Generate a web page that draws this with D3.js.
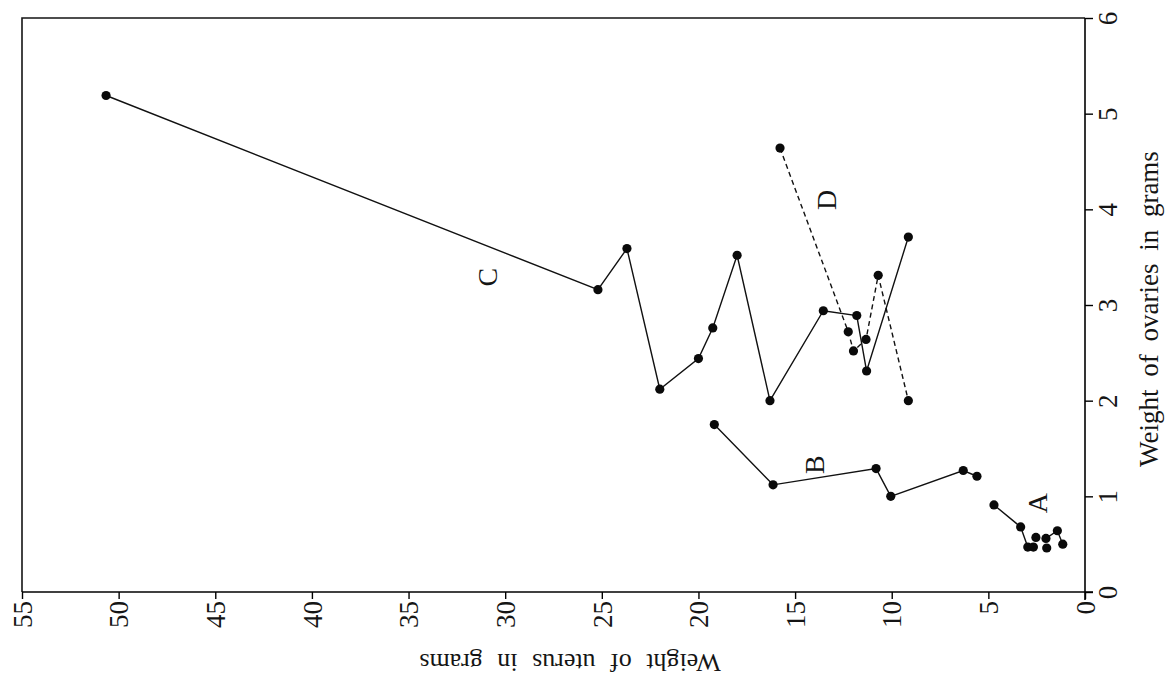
<!DOCTYPE html>
<html>
<head>
<meta charset="utf-8">
<script src="https://cdn.jsdelivr.net/npm/d3@7"></script>
<style>
    body { margin: 0; background: #fff; }
    svg text { font-family: "Liberation Serif", "DejaVu Serif", serif; fill: #151515; }
</style>
</head>
<body>
<div id="chart"></div>
<script>
const svgWidth = 1168;
const svgHeight = 686;

// tick labels
const uterusTicks = [55, 50, 45, 40, 35, 30, 25, 20, 15, 10, 5, 0];
const ovaryTicks = [0, 1, 2, 3, 4, 5, 6];

// weight of uterus / weight of ovaries (grams), null = break in the line
const uterusA = [4.71, 3.33, 2.96, 2.67, null, 2.54, null, 2.02, 1.43, 1.15, null, 1.98];
const ovariesA = [0.91, 0.68, 0.47, 0.47, null, 0.57, null, 0.56, 0.64, 0.50, null, 0.46];

const uterusB = [19.18, 16.14, 10.81, 10.05, 6.3, 5.59];
const ovariesB = [1.75, 1.12, 1.29, 1.00, 1.27, 1.21];

const uterusC = [50.65, 25.2, 23.7, 22.0, 20.0, 19.26, 18.0, 16.3, 13.54, 11.81, 11.3, 9.14];
const ovariesC = [5.19, 3.16, 3.59, 2.12, 2.44, 2.76, 3.52, 2.00, 2.94, 2.89, 2.31, 3.71];

const uterusD = [15.78, 12.25, 11.98, 11.33, 10.7, 9.14];
const ovariesD = [4.64, 2.72, 2.52, 2.64, 3.31, 2.00];

const seriesNames = ['A', 'B', 'C', 'D'];
const labelUterus = [2.48, 13.97, 30.9, 13.4];
const labelOvaries = [0.93, 1.33, 3.29, 4.10];

const svg = d3.select('#chart')
    .append('svg')
    .attr('width', svgWidth)
    .attr('height', svgHeight);

const x = d3.scaleLinear().domain([55, 0]).range([22, 1085]);
const y = d3.scaleLinear().domain([0, 6]).range([592, 18]);

// frame (top and left edges)
svg.append('path')
    .attr('d', `M${x(0)},${y(6)}H${x(55)}V${y(0)}`)
    .attr('fill', 'none')
    .attr('stroke', '#151515')
    .attr('stroke-width', 1.6);

// uterus axis along the bottom, labels turned with the page
const xAxis = svg.append('g')
    .attr('transform', `translate(0,${y(0)})`)
    .call(d3.axisBottom(x).tickValues(uterusTicks).tickFormat(d3.format('d')).tickSize(7).tickSizeOuter(0));
xAxis.select('.domain').attr('stroke-width', 1.6).attr('d', `M${x(55)},0H${x(0) + 8}`);
xAxis.selectAll('.tick line').attr('stroke-width', 1.4);
xAxis.selectAll('.tick text')
    .attr('transform', 'rotate(-90)')
    .attr('x', -9)
    .attr('y', 0)
    .attr('dy', '0.34em')
    .attr('text-anchor', 'end')
    .style('font-size', '27px')
    .style('font-family', '"Liberation Serif", serif');

// ovaries axis along the right
const yAxis = svg.append('g')
    .attr('transform', `translate(${x(0)},0)`)
    .call(d3.axisRight(y).tickValues(ovaryTicks).tickFormat(d3.format('d')).tickSize(8).tickSizeOuter(0));
yAxis.select('.domain').attr('stroke-width', 1.6).attr('d', `M0,${y(6)}V${y(0) + 8}`);
yAxis.selectAll('.tick line').attr('stroke-width', 1.4);
yAxis.selectAll('.tick text')
    .attr('transform', 'rotate(-90)')
    .attr('x', 0)
    .attr('y', 32)
    .attr('dy', 0)
    .attr('text-anchor', 'middle')
    .style('font-size', '27px')
    .style('font-family', '"Liberation Serif", serif');

// axis titles
svg.append('text')
    .attr('transform', `translate(570,662) rotate(180)`)
    .attr('text-anchor', 'middle')
    .attr('dominant-baseline', 'central')
    .style('font-size', '26px')
    .style('word-spacing', '8px')
    .text('Weight of uterus in grams');

svg.append('text')
    .attr('transform', `translate(1158,309) rotate(-90)`)
    .attr('text-anchor', 'middle')
    .style('font-size', '27px')
    .style('word-spacing', '6px')
    .text('Weight of ovaries in grams');

function drawSeries(us, os, dashed) {
    const pts = us.map((u, i) => (u == null ? null : [u, os[i]]));
    const line = d3.line()
        .defined(d => d != null)
        .x(d => x(d[0]))
        .y(d => y(d[1]));
    svg.append('path')
        .datum(pts)
        .attr('d', line)
        .attr('fill', 'none')
        .attr('stroke', '#111')
        .attr('stroke-width', 1.4)
        .attr('stroke-dasharray', dashed ? '5,3.5' : null);
    svg.append('g')
        .selectAll('circle')
        .data(pts.filter(d => d != null))
        .enter()
        .append('circle')
        .attr('cx', d => x(d[0]))
        .attr('cy', d => y(d[1]))
        .attr('r', 4.6)
        .attr('fill', '#0a0a0a');
}

drawSeries(uterusA, ovariesA, false);
drawSeries(uterusB, ovariesB, false);
drawSeries(uterusC, ovariesC, false);
drawSeries(uterusD, ovariesD, true);

// series letters
for (let i = 0; i < seriesNames.length; i++) {
    svg.append('text')
        .attr('transform', `translate(${x(labelUterus[i])},${y(labelOvaries[i])}) rotate(-90)`)
        .attr('text-anchor', 'middle')
        .attr('dominant-baseline', 'central')
        .style('font-size', '28px')
        .text(seriesNames[i]);
}
</script>
</body>
</html>
